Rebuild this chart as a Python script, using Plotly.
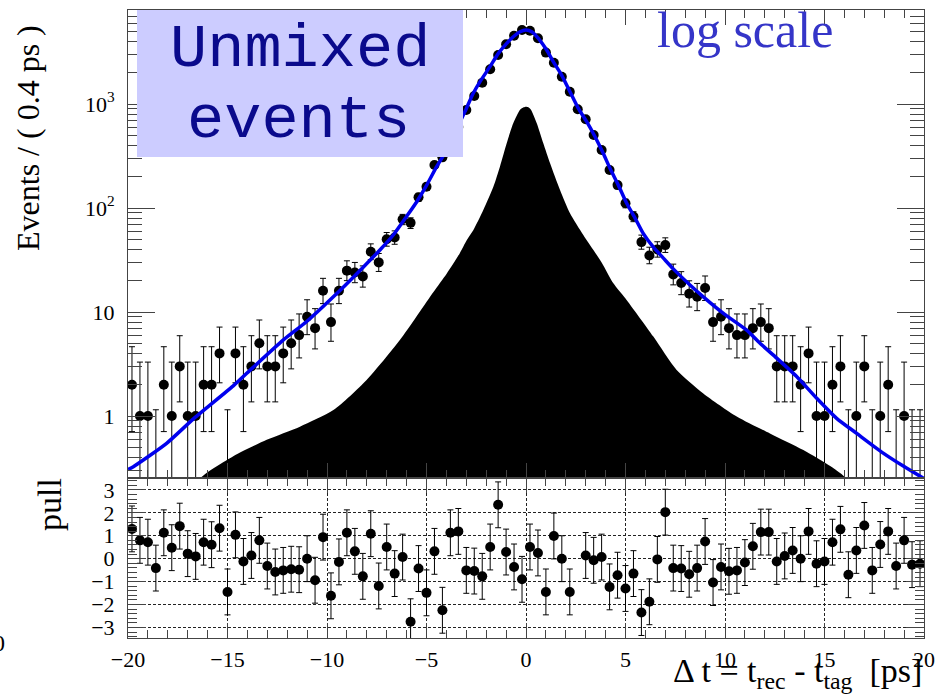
import math
import plotly.graph_objects as go

# ---------------- data ----------------
bin_lo, bin_hi, bin_width = -20.0, 20.0, 0.4

counts = [2, 1, 1, 0, 2, 1, 3, 1, 1, 2,
          2, 4, 0, 4, 2, 3, 5, 3, 3, 4,
          5, 6, 9, 7, 16, 8, 16, 25, 24, 22,
          38, 30, 50, 52, 78, 72, 127, 160, 259, 307,
          420, 600, 875, 1194, 1603, 2158, 2958, 3750, 4540, 5150,
          5070, 4285, 3120, 2496, 1832, 1313, 889, 713, 504, 361,
          232, 166, 111, 83, 47, 35, 40, 44, 23, 19,
          15, 14, 17, 8, 9, 7, 6, 6, 7, 8,
          7, 3, 3, 3, 2, 4, 1, 1, 2, 3,
          0, 1, 3, 0, 1, 2, 0, 1, 0, 0]

pulls = [1.30, 0.80, 0.72, -0.41, 1.13, 0.48, 1.42, 0.22, 0.10, 0.72,
         0.61, 1.33, -1.45, 1.04, -0.12, 0.14, 0.80, -0.32, -0.58, -0.51,
         -0.46, -0.48, 0.00, -0.94, 0.94, -1.62, -0.14, 1.13, 0.32, -0.77,
         1.09, -1.19, 0.51, -0.65, 0.07, -2.75, -0.43, -1.49, 0.32, -2.25,
         1.13, 1.19, -0.51, -0.54, -0.77, 0.51, 2.35, 0.29, -0.36, -0.90,
         0.51, 0.25, -1.45, 0.99, 0.00, -1.45, None, 0.14, -0.07, 0.07,
         -1.23, -0.72, -1.30, -0.65, -2.35, -1.88, -0.03, 2.03, -0.41, -0.43,
         -0.68, -0.41, 0.75, -1.04, -0.36, -0.55, -0.51, -0.17, 0.54, 1.16,
         1.16, -0.12, 0.12, 0.36, 0.00, 1.19, -0.22, -0.12, 0.72, 1.28,
         -0.70, 0.36, 1.45, -0.51, 0.62, 1.19, -0.32, 0.80, -0.26, -0.22]

# fitted PDF (blue curve), read at points along the line
fit_t = [-20.0, -19.73, -18.06, -16.63, -14.71, -13.70, -12.19, -11.02, -9.68, -8.18,
         -7.34, -6.67, -6.0, -5.49, -4.99, -4.49, -3.98, -3.48, -3.07, -2.65,
         -2.31, -1.81, -1.39, -0.97, -0.64, -0.30, 0.0, 0.29, 0.62, 1.04,
         1.37, 1.79, 2.21, 2.63, 3.05, 3.47, 3.88, 4.22, 4.64, 5.06,
         5.48, 5.89, 6.40, 6.90, 7.40, 8.24, 8.91, 9.92, 11.09, 11.76,
         12.60, 13.60, 14.61, 15.61, 16.62, 17.95, 18.96, 20.0]
fit_val = [0.307, 0.326, 0.546, 0.97, 1.95, 2.95, 5.4, 8.1, 14, 27,
           39.5, 55, 83, 115, 166, 250, 361, 575, 845, 1268,
           1641, 2287, 3070, 3830, 4436, 4955, 5150, 4955, 4285, 3305,
           2553, 1900, 1313, 908, 676, 485, 336, 241, 166, 111,
           80, 57, 42, 33, 26, 18.2, 14, 9.7, 6.7, 5.0,
           3.6, 2.4, 1.48, 0.95, 0.68, 0.44, 0.33, 0.25]

# black filled component
comp_t = [-17.0, -16.38, -14.71, -13.03, -11.36, -9.68, -8.01, -6.33, -4.66, -3.98,
          -3.32, -2.98, -2.65, -2.14, -1.64, -1.31, -0.97, -0.64, -0.30, -0.12,
          0.0, 0.12, 0.25, 0.54, 0.87, 1.21, 1.71, 2.21, 2.88, 3.8,
          4.39, 5.0, 6.40, 7.57, 8.91, 10.59, 12.26, 13.94, 15.61, 16.11, 16.8]
comp_val = [0.15, 0.25, 0.41, 0.59, 0.79, 1.14, 2.22, 5.4, 15.5, 23.5,
            37, 49, 61, 96, 160, 250, 419, 652, 880, 930,
            942, 930, 880, 652, 419, 269, 149, 89, 55, 30,
            18.9, 13.5, 5.8, 2.77, 1.65, 0.99, 0.68, 0.47, 0.30, 0.25, 0.15]

major_log_ticks = [1, 10, 100, 1000]
major_log_text = ["1", "10", "10<sup>2</sup>", "10<sup>3</sup>"]
pull_ticks = [-3, -2, -1, 0, 1, 2, 3]

# ---------------- helpers ----------------
n_bins = len(counts)
centers = [bin_lo + bin_width * (i + 0.5) for i in range(n_bins)]


def pois_cdf(k, mu):
    return sum(math.exp(-mu + i * math.log(mu) - math.lgamma(i + 1)) for i in range(k + 1))


def poisson_interval(n):
    if n == 0:
        return 0.0, 1.148
    if n > 60:
        s = math.sqrt(n)
        return n - s, n + s
    alpha = 0.158655
    a, b = 1e-9, float(n)
    for _ in range(80):
        m = 0.5 * (a + b)
        if pois_cdf(n - 1, m) > 1 - alpha:
            a = m
        else:
            b = m
    low = 0.5 * (a + b)
    a, b = float(n), n + 10 * math.sqrt(n) + 10
    for _ in range(80):
        m = 0.5 * (a + b)
        if pois_cdf(n, m) > alpha:
            a = m
        else:
            b = m
    high = 0.5 * (a + b)
    return low, high


px_x, px_y, pz_x, pz_up = [], [], [], []
e_up, e_dn = [], []
for t, n in zip(centers, counts):
    lo, hi = poisson_interval(n)
    if n > 0:
        px_x.append(t)
        px_y.append(n)
        e_up.append(hi - n)
        e_dn.append(n - max(lo, 0.02))
    else:
        pz_x.append(t)
        pz_up.append(hi)

W, H = 949, 700


def X(p):
    return p / W


def Y(p):
    return 1 - p / H


SERIF = "Liberation Serif, Times New Roman, serif"
MONO = "Liberation Mono, Courier New, monospace"
AXC = "#444444"

fig = go.Figure()

# black component
fig.add_trace(go.Scatter(x=comp_t, y=comp_val, mode="lines", fill="toself",
                         fillcolor="black",
                         line=dict(color="black", width=0, shape="spline", smoothing=0.7),
                         xaxis="x", yaxis="y", showlegend=False, hoverinfo="skip"))

# data points
fig.add_trace(go.Scatter(x=px_x, y=px_y, mode="markers",
                         marker=dict(color="black", size=10),
                         error_y=dict(type="data", symmetric=False, array=e_up, arrayminus=e_dn,
                                      color="black", thickness=1, width=3),
                         xaxis="x", yaxis="y", showlegend=False))
# empty bins: only the upper error bar is visible
fig.add_trace(go.Scatter(x=pz_x, y=[0.02] * len(pz_x), mode="markers",
                         marker=dict(color="black", size=10),
                         error_y=dict(type="data", symmetric=False,
                                      array=[u - 0.02 for u in pz_up], arrayminus=[0] * len(pz_x),
                                      color="black", thickness=1, width=3),
                         xaxis="x", yaxis="y", showlegend=False))

# fit curve
fig.add_trace(go.Scatter(x=fit_t, y=fit_val, mode="lines",
                         line=dict(color="#0000ee", width=3.5, shape="spline", smoothing=0.6),
                         xaxis="x", yaxis="y", showlegend=False))

# invisible trace for minor-tick overlay axis
fig.add_trace(go.Scatter(x=[0], y=[1], mode="markers", marker=dict(opacity=0),
                         xaxis="x", yaxis="y3", showlegend=False, hoverinfo="skip"))

# pulls
pp_x = [t for t, p in zip(centers, pulls) if p is not None]
pp_y = [p for p in pulls if p is not None]
fig.add_trace(go.Scatter(x=pp_x, y=pp_y, mode="markers",
                         marker=dict(color="black", size=10),
                         error_y=dict(type="constant", value=1.0, color="black", thickness=1, width=3),
                         xaxis="x2", yaxis="y2", showlegend=False))

log_lo, log_hi = -0.596, 3.904
minor_vals = []
for p in range(-1, 4):
    for k in range(2, 10):
        v = k * 10 ** p
        if 10 ** log_lo <= v <= 10 ** log_hi:
            minor_vals.append(v)

tickfont = dict(family=SERIF, size=22, color="black")

fig.update_layout(
    width=W, height=H, autosize=False,
    margin=dict(l=0, r=0, t=0, b=0, pad=0, autoexpand=False),
    paper_bgcolor="white", plot_bgcolor="white",
    xaxis=dict(domain=[X(128), X(924)], anchor="y", range=[bin_lo, bin_hi], automargin=False,
               showline=True, linecolor=AXC, linewidth=1, mirror="ticks",
               ticks="inside", tickmode="linear", tick0=0, dtick=5, ticklen=15,
               tickcolor=AXC, showticklabels=False, showgrid=False, zeroline=False,
               minor=dict(ticks="inside", dtick=1, tick0=0, ticklen=8, tickcolor=AXC, showgrid=False)),
    yaxis=dict(domain=[Y(478), Y(10)], anchor="x", type="log", range=[log_lo, log_hi],
               automargin=False,
               showline=True, linecolor=AXC, linewidth=1, mirror="ticks",
               ticks="inside", tickmode="array", tickvals=major_log_ticks, ticktext=major_log_text,
               ticklen=27, tickcolor=AXC, tickfont=tickfont, ticklabelstandoff=8,
               showgrid=False, zeroline=False),
    yaxis3=dict(overlaying="y", anchor="x", side="left", type="log", range=[log_lo, log_hi],
                automargin=False,
                showline=False, mirror="ticks", ticks="inside", tickmode="array",
                tickvals=minor_vals, ticklen=14, tickcolor=AXC, showticklabels=False,
                showgrid=False, zeroline=False),
    xaxis2=dict(domain=[X(128), X(924)], anchor="y2", range=[bin_lo, bin_hi], automargin=False,
                showline=True, linecolor=AXC, linewidth=1, mirror="ticks",
                ticks="inside", tickmode="linear", tick0=0, dtick=5, ticklen=15,
                tickcolor=AXC, tickfont=tickfont, ticklabelstandoff=2,
                showgrid=True, gridcolor="#222222", gridwidth=1, griddash="3px,2px",
                zeroline=False,
                minor=dict(ticks="inside", dtick=1, tick0=0, ticklen=8, tickcolor=AXC, showgrid=False)),
    yaxis2=dict(domain=[Y(638), Y(478)], anchor="x2", range=[-3.46, 3.52], automargin=False,
                showline=True, linecolor=AXC, linewidth=1, mirror="ticks",
                ticks="inside", tickmode="array", tickvals=pull_ticks, ticklen=18,
                tickcolor=AXC, tickfont=tickfont, ticklabelstandoff=8,
                showgrid=True, gridcolor="#222222", gridwidth=1, griddash="3px,2px",
                zeroline=False,
                minor=dict(ticks="inside", dtick=0.2, tick0=0, ticklen=9, tickcolor=AXC, showgrid=False)),
)

fig.add_shape(type="rect", xref="paper", yref="paper",
              x0=X(137), x1=X(463), y0=Y(157), y1=Y(10),
              fillcolor="#CCCCFF", line=dict(width=0), layer="above")

ann = [
    dict(text="Events / ( 0.4 ps )", x=X(28), y=Y(138), textangle=-90,
         font=dict(family=SERIF, size=32, color="black")),
    dict(text="pull", x=X(49), y=Y(505), textangle=-90,
         font=dict(family=SERIF, size=34, color="black")),
    dict(text="\u0394 t = t<sub>rec</sub> - t<sub>tag</sub>  [ps]", x=X(924), y=Y(673),
         xanchor="right", font=dict(family=SERIF, size=34, color="black")),
    dict(text="Unmixed", x=X(300), y=Y(49),
         font=dict(family=MONO, size=62, color="#0a0a8c")),
    dict(text="events", x=X(298), y=Y(120),
         font=dict(family=MONO, size=62, color="#0a0a8c")),
    dict(text="log scale", x=X(745), y=Y(30),
         font=dict(family=SERIF, size=50, color="#3535C8")),
    dict(text="0", x=X(7), y=Y(643), xanchor="right",
         font=dict(family=SERIF, size=24, color="black")),
]
for a in ann:
    a.setdefault("xanchor", "center")
    fig.add_annotation(xref="paper", yref="paper", showarrow=False, yanchor="middle", **a)

fig.write_html("out.html", config={"displayModeBar": False},
               post_script="document.body.style.margin='0px';document.body.style.padding='0px';")
